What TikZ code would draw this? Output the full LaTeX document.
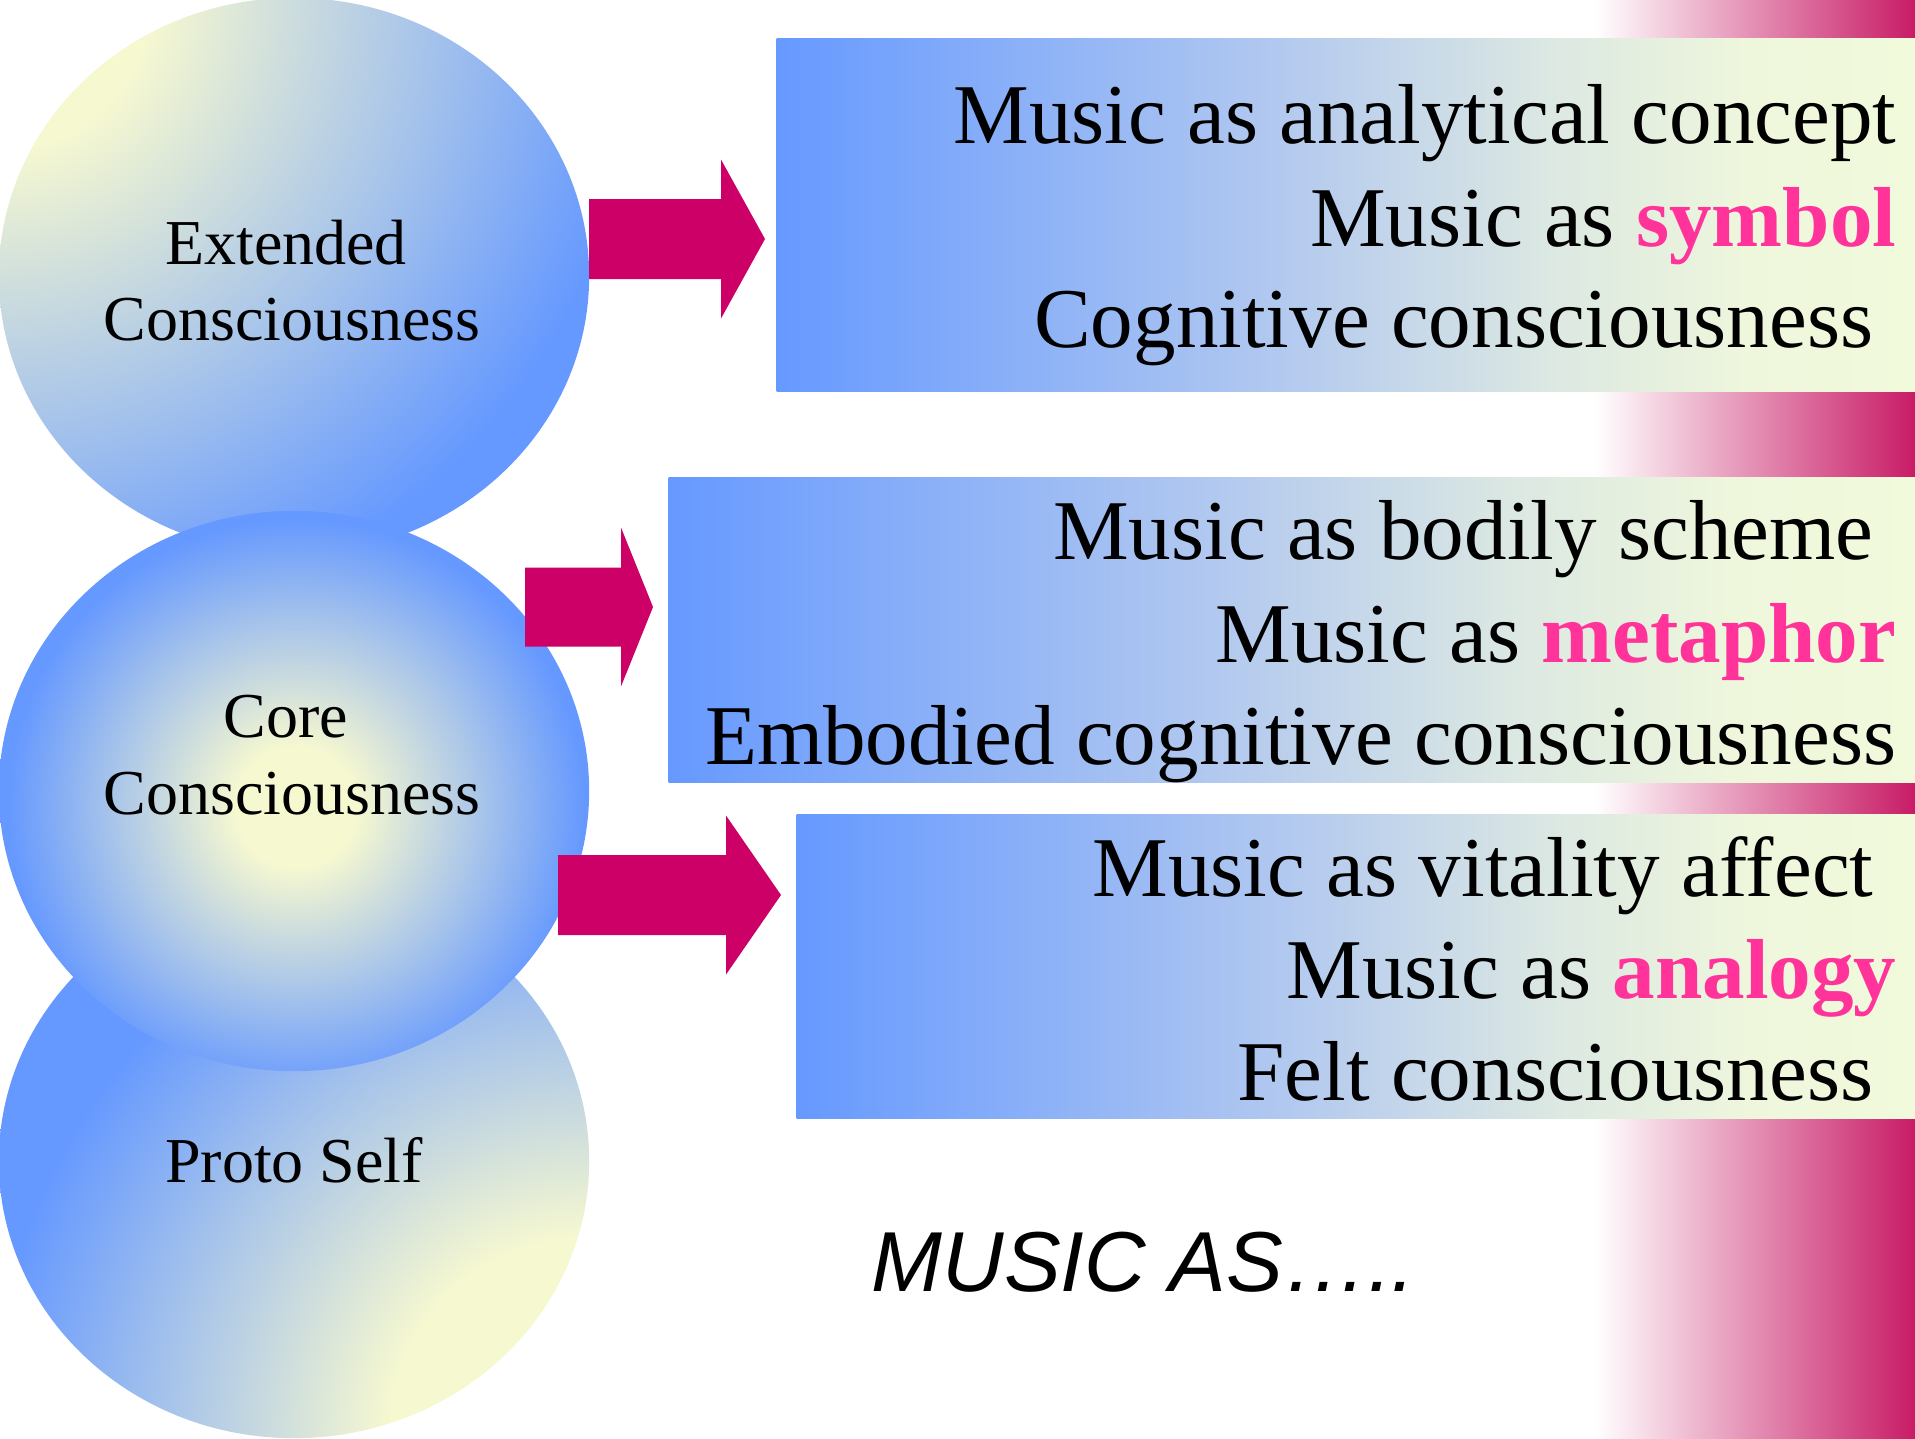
\documentclass[tikz,border=0pt]{standalone}
\usepackage{fontspec}
\setmainfont{Liberation Serif}
\newfontfamily\arialfont{Liberation Sans}
\usetikzlibrary{shapes.geometric,calc}
\definecolor{pblue}{HTML}{6699FF}
\definecolor{pcream}{HTML}{F6F8D0}
\definecolor{rcream}{HTML}{F2FADC}
\definecolor{rmidA}{HTML}{B4CAEF}
\definecolor{rmidB}{HTML}{DCE8E2}
\definecolor{rmidC}{HTML}{EEF6DC}
\definecolor{stripc}{HTML}{C81C66}
\definecolor{arrowc}{HTML}{CC0066}
\definecolor{hpink}{HTML}{FF3399}
\pgfdeclarehorizontalshading{rectsh}{100bp}{color(0bp)=(pblue); color(25bp)=(pblue); color(47.5bp)=(rmidA); color(59bp)=(rmidB); color(67.5bp)=(rmidC); color(75bp)=(rcream); color(100bp)=(rcream)}
\pgfdeclareradialshading{extsh}{\pgfpointorigin}{color(0bp)=(pcream); color(3.75bp)=(pcream); color(16.25bp)=(pblue); color(50bp)=(pblue)}
\pgfdeclareradialshading{coresh}{\pgfpointorigin}{color(0bp)=(pcream); color(2.5bp)=(pcream); color(12bp)=(pblue); color(50bp)=(pblue)}
\pgfdeclareradialshading{protosh}{\pgfpointorigin}{color(0bp)=(pcream); color(5bp)=(pcream); color(15bp)=(pblue); color(50bp)=(pblue)}
\newcommand\blockarrow[5]{%
  \fill[arrowc] (#1,#2-#5) -- (#3,#2-#5) -- (#3,#2-79.5) -- (#4,#2) -- (#3,#2+79.5) -- (#3,#2+#5) -- (#1,#2+#5) -- cycle;}
\begin{document}
\begin{tikzpicture}[x=0.01cm, y=-0.01cm,
  blob/.style={ellipse, inner sep=0pt, draw=none, minimum width=5.9cm},
  box/.style={rectangle, inner sep=0pt, draw=none, shade, shading=rectsh},
  clabel/.style={anchor=base, inner sep=0pt, font=\fontsize{18.2}{22}\selectfont},
  rtext/.style={anchor=base east, inner sep=0pt, font=\fontsize{24.2}{29}\selectfont}]
\useasboundingbox (0,0) rectangle (1915,1438);
\fill[white] (0,0) rectangle (1915,1438);
% right background strip
\shade[left color=white, right color=stripc] (1595,0) rectangle (1915,1438);

% boxes
\node[box, minimum width=11.38cm, minimum height=3.52cm] (r1) at (1346,215) {};
\node[box, minimum width=12.46cm, minimum height=3.04cm] (r2) at (1292,630) {};
\node[box, minimum width=11.18cm, minimum height=3.03cm] (r3) at (1356,966.5) {};

% circles
\node[blob, minimum height=5.56cm,
  path picture={\shade[shading=extsh] (path picture bounding box.north west) circle (1000);}] (ext) at (294,276) {};
\node[blob, minimum height=5.54cm,
  path picture={\shade[shading=protosh] (path picture bounding box.south east) circle (1000);}] (proto) at (294,1161) {};
\node[blob, minimum height=5.60cm,
  path picture={\shade[shading=coresh] ($(path picture bounding box.center)+(2,16)$) circle (600);}] (core) at (294,791) {};

% arrows
\blockarrow{589}{239}{721}{765}{40}
\blockarrow{525}{607}{621}{653}{39.5}
\blockarrow{558}{895}{726}{781}{40}

% circle labels
\node[clabel] (extA) at (286,264) {Extended};
\node[clabel] (extB) at (292,340) {Consciousness};
\node[clabel] (coreA) at (286,737) {Core};
\node[clabel] (coreB) at (292,814) {Consciousness};
\node[clabel] (protoA) at (294,1182) {Proto Self};

% box texts
\node[rtext] (t11) at (1897,143) {Music as analytical concept};
\node[rtext] (t12) at (1897,246) {Music as {\bfseries\color{hpink}symbol}};
\node[rtext] (t13) at (1874,347) {Cognitive consciousness};
\node[rtext] (t21) at (1874,559) {Music as bodily scheme};
\node[rtext] (t22) at (1897,662) {Music as {\bfseries\color{hpink}metaphor}};
\node[rtext] (t23) at (1897,764) {Embodied cognitive consciousness};
\node[rtext] (t31) at (1874,896) {Music as vitality affect};
\node[rtext] (t32) at (1897,998) {Music as {\bfseries\color{hpink}analogy}};
\node[rtext] (t33) at (1874,1100) {Felt consciousness};

\node[anchor=base west, inner sep=0pt, font=\arialfont\itshape\fontsize{24.2}{29}\selectfont] (musicas) at (871,1291) {MUSIC AS…..};
\end{tikzpicture}
\end{document}
